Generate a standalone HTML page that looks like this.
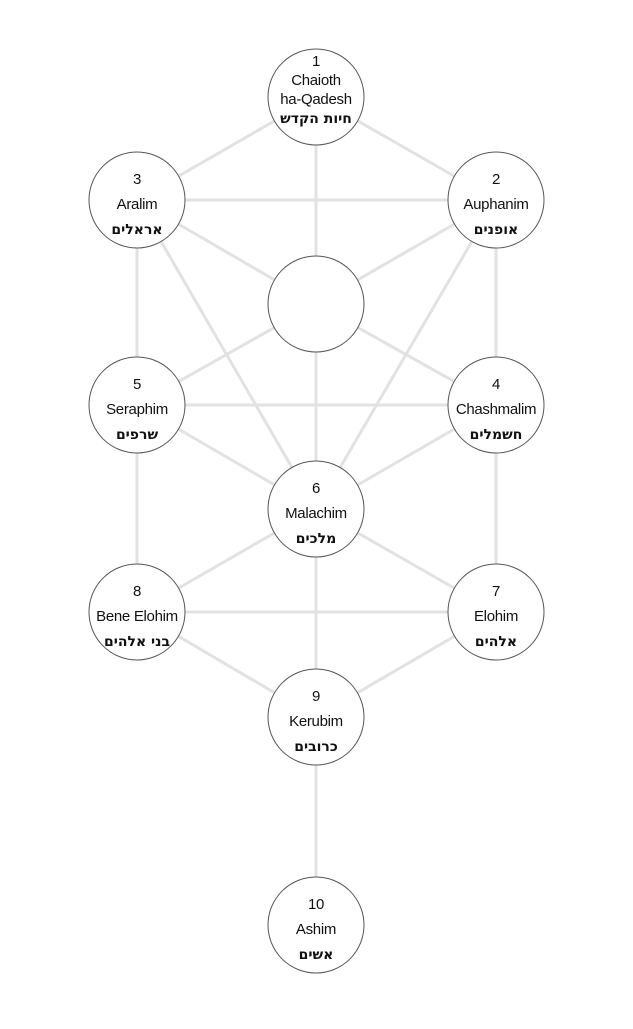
<!DOCTYPE html>
<html><head><meta charset="utf-8"><style>
body{margin:0;background:#fff;}
svg text{font-family:"Liberation Sans","DejaVu Sans",sans-serif;font-size:15px;fill:#111;text-anchor:middle;letter-spacing:-0.3px;}
svg text.h{font-weight:bold;font-family:"DejaVu Sans","Liberation Sans",sans-serif;font-size:14px;letter-spacing:0;}
</style></head><body>
<svg width="633" height="1024" xmlns="http://www.w3.org/2000/svg">
<g stroke="#e2e2e2" stroke-width="3" fill="none">
<line x1="316" y1="97" x2="137" y2="200"/>
<line x1="316" y1="97" x2="496" y2="200"/>
<line x1="316" y1="97" x2="316" y2="304"/>
<line x1="137" y1="200" x2="496" y2="200"/>
<line x1="137" y1="200" x2="316" y2="304"/>
<line x1="496" y1="200" x2="316" y2="304"/>
<line x1="137" y1="200" x2="137" y2="405"/>
<line x1="496" y1="200" x2="496" y2="405"/>
<line x1="137" y1="200" x2="316" y2="509"/>
<line x1="496" y1="200" x2="316" y2="509"/>
<line x1="316" y1="304" x2="137" y2="405"/>
<line x1="316" y1="304" x2="496" y2="405"/>
<line x1="316" y1="304" x2="316" y2="509"/>
<line x1="137" y1="405" x2="496" y2="405"/>
<line x1="137" y1="405" x2="316" y2="509"/>
<line x1="496" y1="405" x2="316" y2="509"/>
<line x1="137" y1="405" x2="137" y2="612"/>
<line x1="496" y1="405" x2="496" y2="612"/>
<line x1="316" y1="509" x2="137" y2="612"/>
<line x1="316" y1="509" x2="496" y2="612"/>
<line x1="137" y1="612" x2="496" y2="612"/>
<line x1="137" y1="612" x2="316" y2="717"/>
<line x1="496" y1="612" x2="316" y2="717"/>
<line x1="316" y1="509" x2="316" y2="717"/>
<line x1="316" y1="717" x2="316" y2="925"/>
</g>
<g fill="#fff" stroke="#555" stroke-width="1">
<circle cx="316" cy="97" r="48"/>
<circle cx="137" cy="200" r="48"/>
<circle cx="496" cy="200" r="48"/>
<circle cx="316" cy="304" r="48"/>
<circle cx="137" cy="405" r="48"/>
<circle cx="496" cy="405" r="48"/>
<circle cx="316" cy="509" r="48"/>
<circle cx="137" cy="612" r="48"/>
<circle cx="496" cy="612" r="48"/>
<circle cx="316" cy="717" r="48"/>
<circle cx="316" cy="925" r="48"/>
</g>
<text x="316" y="66">1</text><text x="316" y="85">Chaioth</text><text x="316" y="104">ha-Qadesh</text><text class="h" x="316" y="123">חיות הקדש</text>
<text x="137" y="184">3</text><text x="137" y="209">Aralim</text><text class="h" x="137" y="234">אראלים</text>
<text x="496" y="184">2</text><text x="496" y="209">Auphanim</text><text class="h" x="496" y="234">אופנים</text>
<text x="137" y="389">5</text><text x="137" y="414">Seraphim</text><text class="h" x="137" y="439">שרפים</text>
<text x="496" y="389">4</text><text x="496" y="414">Chashmalim</text><text class="h" x="496" y="439">חשמלים</text>
<text x="316" y="493">6</text><text x="316" y="518">Malachim</text><text class="h" x="316" y="543">מלכים</text>
<text x="137" y="596">8</text><text x="137" y="621">Bene Elohim</text><text class="h" x="137" y="646">בני אלהים</text>
<text x="496" y="596">7</text><text x="496" y="621">Elohim</text><text class="h" x="496" y="646">אלהים</text>
<text x="316" y="701">9</text><text x="316" y="726">Kerubim</text><text class="h" x="316" y="751">כרובים</text>
<text x="316" y="909">10</text><text x="316" y="934">Ashim</text><text class="h" x="316" y="959">אשים</text>
</svg>
</body></html>
